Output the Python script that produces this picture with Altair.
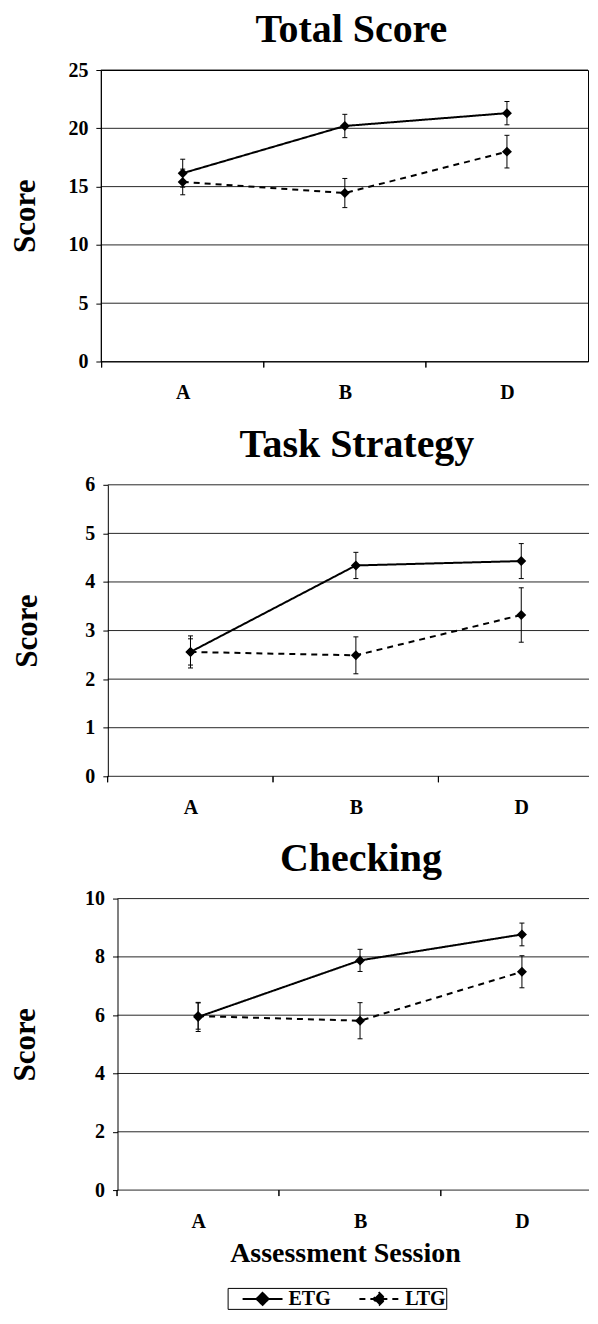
import altair as alt
import pandas as pd

FONT = "Liberation Serif"

sessions = ["A", "B", "D"]
groups = ["ETG", "LTG"]

total_etg = [16.15, 20.2, 21.3]
total_etg_err = [1.2, 1.0, 1.0]
total_ltg = [15.4, 14.45, 18.0]
total_ltg_err = [1.1, 1.25, 1.4]

task_etg = [2.56, 4.34, 4.43]
task_etg_err = [0.33, 0.27, 0.36]
task_ltg = [2.56, 2.49, 3.32]
task_ltg_err = [0.27, 0.38, 0.56]

check_etg = [5.94, 7.88, 8.77]
check_etg_err = [0.5, 0.38, 0.39]
check_ltg = [5.97, 5.81, 7.49]
check_ltg_err = [0.45, 0.62, 0.55]

total_ticks = [0, 5, 10, 15, 20, 25]
task_ticks = [0, 1, 2, 3, 4, 5, 6]
check_ticks = [0, 2, 4, 6, 8, 10]


def make_df(etg, etg_err, ltg, ltg_err):
    rows = []
    for g, vals, errs in (("ETG", etg, etg_err), ("LTG", ltg, ltg_err)):
        for s, v, e in zip(sessions, vals, errs):
            rows.append({"session": s, "group": g, "mean": v, "lo": v - e, "hi": v + e})
    return pd.DataFrame(rows)


# legend glyph: a 40px line with a filled diamond, drawn left of a 20px symbol slot
LEG_PATH = "M-3,0H1M-1,-0.6L-0.4,0L-1,0.6L-1.6,0Z"

legend = alt.Legend(
    title=None,
    orient="none",
    legendX=127,
    legendY=1220,
    direction="horizontal",
    symbolType=LEG_PATH,
    symbolSize=400,
    symbolStrokeWidth=2,
    symbolStrokeColor="black",
    symbolFillColor="black",
    symbolOffset=34,
    labelFont=FONT,
    labelFontSize=20,
    labelFontWeight="bold",
    labelColor="black",
    labelOffset=5,
    columnPadding=13,
    strokeColor="black",
    padding=0,
)

H = 292


def panel(df, ticks, title, ymax, width, shift, pad, align, step, title_pad, xtitle, border, dx):
    x = alt.X(
        "session:N",
        sort=sessions,
        scale=alt.Scale(type="point", domain=sessions, padding=pad, align=align),
        axis=alt.Axis(
            title=xtitle,
            labelAngle=0,
            domain=False,
            ticks=False,
            labelPadding=21,
            labelFont=FONT,
            labelFontSize=20,
            labelFontWeight="bold",
            labelColor="black",
            titleFont=FONT,
            titleFontSize=28,
            titleFontWeight="bold",
            titleColor="black",
            titlePadding=9,
            grid=False,
        ),
    )
    yax = alt.Axis(
        title="Score",
        values=ticks,
        offset=-shift,
        titleFont=FONT,
        titleFontSize=31,
        titleFontWeight="bold",
        titleColor="black",
        titlePadding=title_pad,
        labelFont=FONT,
        labelFontSize=20,
        labelFontWeight="bold",
        labelColor="black",
        labelPadding=8,
        tickSize=5,
        tickColor="black",
        domainColor="black",
        grid=False,
    )
    yscale = alt.Scale(domain=[0, ymax], nice=False, zero=True)
    base = alt.Chart(df)
    grid = alt.Chart(pd.DataFrame({"v": ticks})).mark_rule(
        color="black", strokeWidth=1, opacity=0.85
    ).encode(
        y=alt.Y("v:Q", scale=yscale, axis=yax),
        x=alt.value(shift),
        x2=alt.value(width),
    )
    line = base.mark_line(color="black", strokeWidth=2).encode(
        x=x,
        y=alt.Y("mean:Q", scale=yscale, axis=yax),
        strokeDash=alt.StrokeDash(
            "group:N",
            scale=alt.Scale(domain=groups, range=[[1, 0], [6, 5]]),
            legend=legend,
        ),
    )
    xticks = base.mark_rule(color="black", strokeWidth=1, xOffset=-step / 2).encode(
        x=x,
        y=alt.value(H),
        y2=alt.value(H + 6),
    )
    rule = base.mark_rule(color="black", strokeWidth=1).encode(
        x=x, y=alt.Y("lo:Q", scale=yscale, axis=yax), y2="hi:Q"
    )
    cap_lo = base.mark_tick(color="black", size=5, thickness=1, opacity=1).encode(
        x=x, y=alt.Y("lo:Q", scale=yscale, axis=yax)
    )
    cap_hi = base.mark_tick(color="black", size=5, thickness=1, opacity=1).encode(
        x=x, y=alt.Y("hi:Q", scale=yscale, axis=yax)
    )
    pts = base.mark_point(shape="diamond", filled=True, size=100, color="black", opacity=1).encode(
        x=x, y=alt.Y("mean:Q", scale=yscale, axis=yax)
    )
    return alt.layer(grid, line, xticks, rule, cap_lo, cap_hi, pts).properties(
        width=width,
        height=H,
        view=alt.ViewBackground(stroke="black", strokeWidth=1, strokeOpacity=1 if border else 0),
        title=alt.TitleParams(
            title,
            font=FONT,
            fontSize=40,
            fontWeight="bold",
            color="black",
            anchor="middle",
            offset=10,
            dx=dx,
        ),
    )


p1 = panel(make_df(total_etg, total_etg_err, total_ltg, total_ltg_err), total_ticks,
           "Total Score", 25, 488, 0, 0.5025, 0.5025, 162.4, 26, None, True, 7)
p2 = panel(make_df(task_etg, task_etg_err, task_ltg, task_ltg_err), task_ticks,
           "Task Strategy", 6, 489, 7, 0.4759, 0.5696, 166, 41.7, None, False, 12)
p3 = panel(make_df(check_etg, check_etg_err, check_ltg, check_ltg_err), check_ticks,
           "Checking", 10, 489, 16.7, 0.5077, 0.592, 162.5, 42.7, "Assessment Session", False, 16)

chart = alt.vconcat(p1, p2, p3, spacing=21.5).properties(
    padding={"left": 1, "top": 0, "right": 0, "bottom": 0}, background="white"
)

chart.save("out.html", embed_options={"renderer": "svg", "actions": False})
